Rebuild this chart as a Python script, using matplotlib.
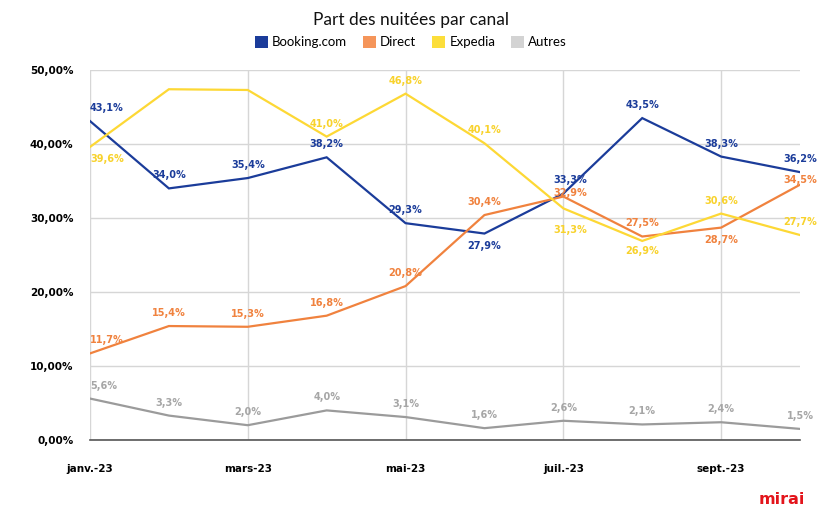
import matplotlib
matplotlib.use("Agg")
import matplotlib.pyplot as plt
from matplotlib.patches import Patch

months = ["janv.-23", "févr.-23", "mars-23", "avr.-23", "mai-23", "juin-23",
          "juil.-23", "août-23", "sept.-23", "oct.-23"]
booking = [43.1, 34.0, 35.4, 38.2, 29.3, 27.9, 33.3, 43.5, 38.3, 36.2]
direct = [11.7, 15.4, 15.3, 16.8, 20.8, 30.4, 32.9, 27.5, 28.7, 34.5]
expedia = [39.6, 47.4, 47.3, 41.0, 46.8, 40.1, 31.3, 26.9, 30.6, 27.7]
autres = [5.6, 3.3, 2.0, 4.0, 3.1, 1.6, 2.6, 2.1, 2.4, 1.5]
# label placement: 1 above, -1 below, 0 hidden
booking_pos = [1, 1, 1, 1, 1, -1, 1, 1, 1, 1]
direct_pos = [1, 1, 1, 1, 1, 1, 1, 1, -1, 1]
expedia_pos = [-1, 0, 0, 1, 1, 1, -1, -1, 1, 1]
autres_pos = [1, 1, 1, 1, 1, 1, 1, 1, 1, 1]
yticks = [0, 10, 20, 30, 40, 50]
xtick_idx = [0, 2, 4, 6, 8]

series = [
    ("Booking.com", booking, booking_pos, "#1b3c9a", "#1b3c9a", "#1b3c9a"),
    ("Direct", direct, direct_pos, "#f0823e", "#f0823e", "#f5955a"),
    ("Expedia", expedia, expedia_pos, "#fdd835", "#f8d22c", "#fcde3a"),
    ("Autres", autres, autres_pos, "#9b9b9b", "#a6a6a6", "#d3d3d3"),
]
# label offset overrides in pixels (dx, dy up-positive)
overrides = {
    ("Booking.com", 6): (7, 14),
    ("Direct", 6): (7, 4),
    ("Expedia", 6): (7, -22),
    ("Direct", 9): (0, 5),
    ("Expedia", 7): (0, -10),
}

fig = plt.figure(figsize=(8.22, 5.15), dpi=100)
ax = fig.add_axes([90/822, 1-440/515, 710/822, 370/515])
x = list(range(len(months)))

for name, vals, pos, lc, tc, pc in series:
    ax.plot(x, vals, color=lc, lw=1.6, solid_joinstyle="miter", zorder=3)
    for xi, v, p in zip(x, vals, pos):
        if p == 0:
            continue
        lab = f"{v:.1f}%".replace(".", ",")
        dx, dy = overrides.get((name, xi), (0, 13 if p > 0 else -12))
        ha = "center"
        if xi == 0:
            ha = "left"
            dx = 0
        ax.annotate(lab, (xi, v), xytext=(dx, dy), textcoords="offset pixels",
                    ha=ha, va="center", fontsize=7, fontweight="bold",
                    color=tc, family="DejaVu Sans", zorder=4,
                    annotation_clip=False)

ax.set_xlim(0, 9)
ax.set_ylim(0, 50)
ax.set_yticks(yticks)
ax.set_yticklabels([f"{t:.2f}%".replace(".", ",") for t in yticks],
                   fontsize=7.5, fontweight="bold", family="DejaVu Sans")
ax.set_xticks(xtick_idx)
ax.set_xticklabels([months[i] for i in xtick_idx], fontsize=7.5,
                   fontweight="bold", family="DejaVu Sans")
ax.tick_params(axis="both", length=0)
ax.tick_params(axis="y", pad=12)
ax.tick_params(axis="x", pad=17)
ax.grid(True, color="#d6d6d6", lw=1.0, zorder=0)
for s in ["top", "right", "left"]:
    ax.spines[s].set_visible(False)
ax.spines["bottom"].set_color("#555555")
ax.spines["bottom"].set_linewidth(1.2)
ax.set_axisbelow(True)

fig.text(0.5, 1-20/515, "Part des nuitées par canal", ha="center", va="center",
         fontsize=12.5, family="Lato", color="#111111")
handles = [Patch(facecolor=s[5], edgecolor="none", label=s[0]) for s in series]
fig.legend(handles=handles, loc="center", bbox_to_anchor=(0.5, 1-42/515),
           ncol=4, frameon=False, prop={"family": "Lato", "size": 9.5},
           handlelength=1.0, handleheight=1.0, handletextpad=0.3,
           columnspacing=1.2)
fig.text(805/822, 1-499/515, "mirai", ha="right", va="center", fontsize=11.5,
         fontweight="heavy", color="#e3141b", family="DejaVu Sans")

fig.savefig("out.png", dpi=100)
